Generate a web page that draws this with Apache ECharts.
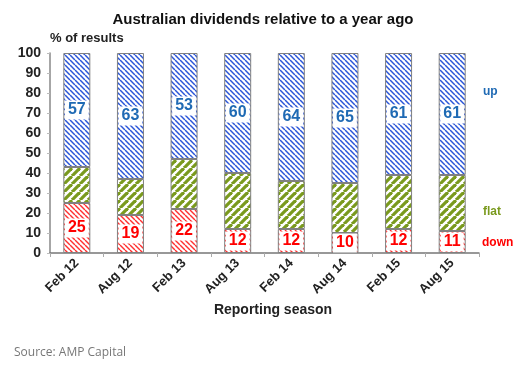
<!DOCTYPE html>
<html><head><meta charset="utf-8">
<script src="https://cdn.jsdelivr.net/npm/echarts@6/dist/echarts.min.js"></script>
<style>html,body{margin:0;padding:0;background:#fff}#c{width:526px;height:374px}</style>
</head><body><div id="c"></div>
<script>
const categories = ['Feb 12','Aug 12','Feb 13','Aug 13','Feb 14','Aug 14','Feb 15','Aug 15'];
const downVals = [25,19,22,12,12,10,12,11];
const flatVals = [18,18,25,28,24,25,27,28];
const upVals   = [57,63,53,60,64,65,61,61];
const yTicks = [0,10,20,30,40,50,60,70,80,90,100];

function stripes(color, period, lineW, dir) {
  const c = document.createElement('canvas');
  c.width = c.height = period;
  const ctx = c.getContext('2d');
  ctx.fillStyle = '#fff'; ctx.fillRect(0,0,period,period);
  ctx.strokeStyle = color; ctx.lineWidth = lineW;
  for (let k=-1;k<=1;k++){
    ctx.beginPath();
    if (dir === 'back') { ctx.moveTo(k*period,0); ctx.lineTo(k*period+period,period); }
    else { ctx.moveTo(k*period,period); ctx.lineTo(k*period+period,0); }
    ctx.stroke();
  }
  return {image: c, repeat: 'repeat'};
}
const F = '"Liberation Sans", Arial, sans-serif';
const chart = echarts.init(document.getElementById('c'), null, {renderer:'canvas'});
const border = {borderColor:'#808080', borderWidth:1};
chart.setOption({
  animation:false,
  title:{text:'Australian dividends relative to a year ago', left:'center', top:7,
    textStyle:{fontFamily:F, fontSize:15, fontWeight:'bold', color:'#111'}},
  grid:{left:50, right:47, top:53, bottom:121},
  xAxis:{type:'category', data:categories,
    name:'Reporting season', nameLocation:'middle', nameGap:48,
    nameTextStyle:{fontFamily:F, fontSize:14, fontWeight:'bold', color:'#222', padding:[0,0,0,17]},
    axisLine:{lineStyle:{color:'#777', width:1.5}},
    axisTick:{show:true, length:4, lineStyle:{color:'#aaa'}},
    axisLabel:{rotate:45, margin:8, fontFamily:F, fontSize:13, fontWeight:'bold', color:'#222', interval:0}},
  yAxis:{type:'value', min:0, max:100, interval:10,
    name:'% of results', nameLocation:'end', nameGap:8,
    nameTextStyle:{fontFamily:F, fontSize:13, fontWeight:'bold', color:'#222', align:'left', padding:[0,0,0,0]},
    axisLine:{show:true, lineStyle:{color:'#888', width:1.5}},
    axisTick:{show:true, length:3, lineStyle:{color:'#bbb'}},
    splitLine:{show:false},
    axisLabel:{margin:9, fontFamily:F, fontSize:14, fontWeight:'bold', color:'#222',
      formatter: v => yTicks.includes(v) ? String(v) : ''}},
  series:[
    {name:'down', type:'bar', stack:'s', barWidth:27, data:downVals,
      itemStyle:Object.assign({color:stripes('#ff3030',5,1.4,'back')}, border),
      label:{show:true, position:'inside', fontFamily:F, fontSize:16, fontWeight:'bold', color:'#ff0000',
        backgroundColor:'#fff', padding:[2,3,1,3]}},
    {name:'flat', type:'bar', stack:'s', data:flatVals,
      itemStyle:Object.assign({color:stripes('#7a9a1e',8,3.2,'fwd')}, border)},
    {name:'up', type:'bar', stack:'s', data:upVals,
      itemStyle:Object.assign({color:stripes('#2a55d8',5,1.5,'back')}, border),
      label:{show:true, position:'inside', fontFamily:F, fontSize:16, fontWeight:'bold', color:'#1f6ab4',
        backgroundColor:'#fff', padding:[2,3,1,3]}}
  ],
  graphic:[
    {type:'text', left:483, top:86, style:{text:'up', font:'bold 12px '+F, fill:'#1f6ab4'}},
    {type:'text', left:483, top:206, style:{text:'flat', font:'bold 12px '+F, fill:'#7a9a1e'}},
    {type:'text', left:482, top:237, style:{text:'down', font:'bold 12px '+F, fill:'#ff0000'}},
    {type:'text', left:14, top:347, style:{text:'Source: AMP Capital', font:'12px "Open Sans", sans-serif', fill:'#777'}}
  ]
});
</script></body></html>
